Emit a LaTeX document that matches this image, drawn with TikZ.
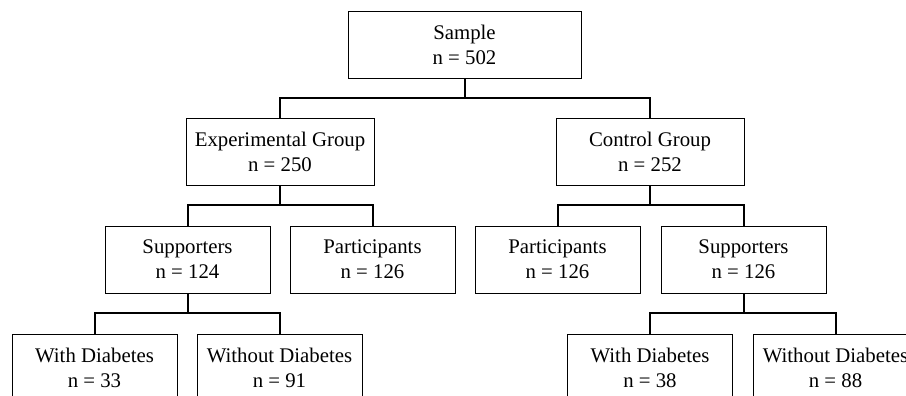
\documentclass[tikz,border=0pt]{standalone}
\usepackage{fontspec}
\setmainfont{Liberation Serif}
\tikzset{
  grpbox/.style={draw, line width=.8pt, inner sep=0pt, minimum height=67pt,
    minimum width=165pt, align=center, font=\fontsize{20.8}{25}\selectfont},
  branch/.style={line width=2pt}
}
\begin{document}
\begin{tikzpicture}[x=1pt,y=-1pt]
		\clip (0,0) rectangle (906,396);
		\node[grpbox, minimum width=233pt] (sample) at (464.5,44.5) {Sample\\n = 502};
		
		\node[grpbox, minimum width=188pt] (exp) at (280,151.5) {Experimental Group\\n = 250};
		\node[grpbox, minimum width=188pt] (ctrl) at (650,151.5) {Control Group\\n = 252};
		
		\node[grpbox] (supexp) at (187.5,259.5) {Supporters\\n = 124};
		\node[grpbox] (parexp) at (372.5,259.5) {Participants\\n = 126};
		\node[grpbox] (parctrl) at (557.5,259.5) {Participants\\n = 126};
		\node[grpbox] (supctrl) at (743.5,259.5) {Supporters\\n = 126};
		
		\node[grpbox] (withexp) at (94.5,367.5) {With Diabetes\\n = 33};
		\node[grpbox] (woexp) at (279.5,367.5) {Without Diabetes\\n = 91};
		\node[grpbox] (withctrl) at (650,367.5) {With Diabetes\\n = 38};
		\node[grpbox] (woctrl) at (835.5,367.5) {Without Diabetes\\n = 88};
		
		\draw[branch] (sample.south) -- ++(0,20) -| (exp.north);
		\draw[branch] (sample.south) -- ++(0,20) -| (ctrl.north);
		\draw[branch] (exp.south) -- ++(0,20) -| (supexp.north);
		\draw[branch] (exp.south) -- ++(0,20) -| (parexp.north);
		\draw[branch] (ctrl.south) -- ++(0,20) -| (parctrl.north);
		\draw[branch] (ctrl.south) -- ++(0,20) -| (supctrl.north);
		\draw[branch] (supexp.south) -- ++(0,20) -| (withexp.north);
		\draw[branch] (supexp.south) -- ++(0,20) -| (woexp.north);
		\draw[branch] (supctrl.south) -- ++(0,20) -| (withctrl.north);
		\draw[branch] (supctrl.south) -- ++(0,20) -| (woctrl.north);
		\end{tikzpicture}
\end{document}
